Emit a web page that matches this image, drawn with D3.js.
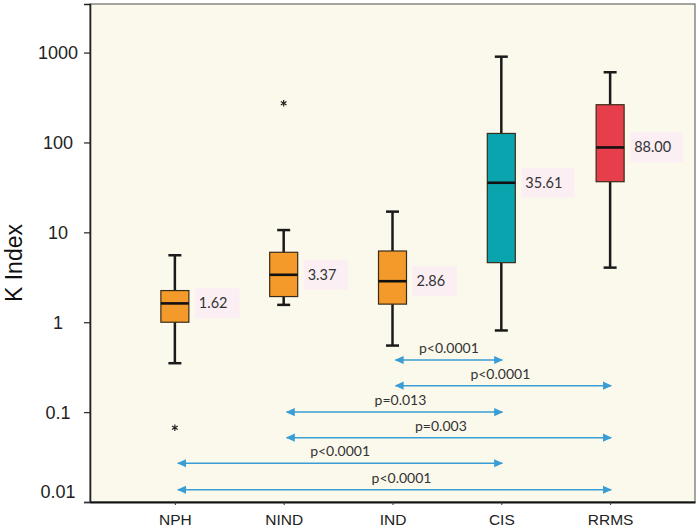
<!DOCTYPE html>
<html><head><meta charset="utf-8">
<script src="https://cdn.jsdelivr.net/npm/d3@7"></script>
<style>body{margin:0;background:#fff;} svg{display:block;}</style>
</head><body>
<svg id="c" width="700" height="528"></svg>
<script>
// ---- data ----
const categories   = ["NPH", "NIND", "IND", "CIS", "RRMS"];
const whiskerLow   = [0.35, 1.56, 0.55, 0.81, 4.05];
const q1           = [1.0, 1.93, 1.59, 4.6, 36.6];
const medians      = [1.62, 3.37, 2.86, 35.61, 88.00];
const q3           = [2.25, 6.0, 6.2, 126, 263];
const whiskerHigh  = [5.56, 10.6, 17, 900, 604];
const medianLabels = ["1.62", "3.37", "2.86", "35.61", "88.00"];
const outlierCats   = ["NPH", "NIND"];
const outlierValues = [0.067, 273];
const compFrom   = ["IND", "IND", "NIND", "NIND", "NPH", "NPH"];
const compTo     = ["CIS", "RRMS", "CIS", "RRMS", "CIS", "RRMS"];
const compLevel  = [0.38, 0.197, 0.1, 0.052, 0.027, 0.0137];
const compLabels = ["p<0.0001", "p<0.0001", "p=0.013", "p=0.003", "p<0.0001", "p<0.0001"];
const yTickValues = [0.01, 0.1, 1, 10, 100, 1000];
const yTickLabels = ["0.01", "0.1", "1", "10", "100", "1000"];

// ---- layout ----
const svg = d3.select("#c");
const L = 90, R = 695, T = 4, B = 502;
const x = d3.scalePoint().domain(categories).range([L, R]).padding(0.78);
const y = d3.scaleLog().domain([0.01, 3470]).range([B, T]);
const boxColors = ["#F39A2A", "#F39A2A", "#F39A2A", "#0AA4AE", "#E63E4A"];
const boxW = 28, capW = 13;

// plot background
svg.append("rect").attr("x", L).attr("y", T).attr("width", R - L).attr("height", B - T)
  .attr("fill", "#FBF9EC").attr("stroke", "#6a6a6a").attr("stroke-width", 1.2);

// y axis
const yAxis = svg.append("g").attr("transform", `translate(${L},0)`)
  .call(d3.axisLeft(y).tickValues(yTickValues).tickFormat((d, i) => yTickLabels[i]).tickSize(6).tickPadding(0));
yAxis.select(".domain").attr("stroke", "#222").attr("stroke-width", 1.6);
yAxis.selectAll(".tick line").attr("stroke", "#333").attr("stroke-width", 1.3);
yAxis.selectAll(".tick text")
  .attr("x", -32).attr("text-anchor", "middle")
  .attr("font-family", "Liberation Sans, Arial, sans-serif").attr("font-size", 18).attr("fill", "#222")
  .attr("dy", (d) => d === 0.01 ? "-0.25em" : "0.35em");

// x axis
const xAxis = svg.append("g").attr("transform", `translate(0,${B})`)
  .call(d3.axisBottom(x).tickSize(3).tickPadding(6).tickSizeOuter(0));
xAxis.select(".domain").attr("stroke", "#111").attr("stroke-width", 2.2);
xAxis.selectAll(".tick line").attr("stroke", "#333");
xAxis.selectAll(".tick text")
  .attr("font-family", "Liberation Sans, Arial, sans-serif").attr("font-size", 15.5).attr("fill", "#222")
  .attr("dy", "0.9em");

// y axis title
svg.append("text").attr("transform", `translate(22,263) rotate(-90)`)
  .attr("text-anchor", "middle").attr("font-family", "Liberation Sans, Arial, sans-serif")
  .attr("font-size", 23).attr("fill", "#111").text("K Index");

// boxes
const g = svg.append("g");
categories.forEach((c, i) => {
  const cx = x(c);
  const gg = g.append("g");
  // whiskers
  gg.append("line").attr("x1", cx).attr("x2", cx).attr("y1", y(q3[i])).attr("y2", y(whiskerHigh[i]))
    .attr("stroke", "#1a1a1a").attr("stroke-width", 2.5);
  gg.append("line").attr("x1", cx).attr("x2", cx).attr("y1", y(q1[i])).attr("y2", y(whiskerLow[i]))
    .attr("stroke", "#1a1a1a").attr("stroke-width", 2.5);
  [whiskerHigh[i], whiskerLow[i]].forEach(v => {
    gg.append("line").attr("x1", cx - capW / 2).attr("x2", cx + capW / 2).attr("y1", y(v)).attr("y2", y(v))
      .attr("stroke", "#1a1a1a").attr("stroke-width", 2.5);
  });
  // box
  gg.append("rect").attr("x", cx - boxW / 2).attr("width", boxW)
    .attr("y", y(q3[i])).attr("height", y(q1[i]) - y(q3[i]))
    .attr("fill", boxColors[i]).attr("stroke", "#3b2b1b").attr("stroke-width", 1.2);
  // median
  gg.append("line").attr("x1", cx - boxW / 2).attr("x2", cx + boxW / 2).attr("y1", y(medians[i])).attr("y2", y(medians[i]))
    .attr("stroke", "#111").attr("stroke-width", 2.6);
  // median label
  const lb = gg.append("g");
  const rect = lb.append("rect").attr("fill", "#FBEFF4");
  const t = lb.append("text").attr("x", cx + boxW / 2 + 10).attr("y", y(medians[i]) + 5)
    .attr("font-family", "Lato, 'Open Sans', sans-serif").attr("font-size", 14.5).attr("fill", "#333")
    .text(medianLabels[i]);
  const bb = t.node().getBBox();
  rect.attr("x", cx + boxW / 2 + 6).attr("y", y(medians[i]) - 15).attr("width", bb.width + 16).attr("height", 30);
});

// outliers
const star = d3.symbol(d3.symbolAsterisk, 30);
outlierCats.forEach((c, i) => {
  svg.append("path").attr("d", star()).attr("transform", `translate(${x(c)},${y(outlierValues[i])})`)
    .attr("fill", "none").attr("stroke", "#222").attr("stroke-width", 1.2);
});

// comparison arrows
const arrowColor = "#3A9DD6";
const defs = svg.append("defs");
defs.append("marker").attr("id", "ah").attr("viewBox", "0 0 10 10").attr("refX", 9).attr("refY", 5)
  .attr("markerWidth", 9).attr("markerHeight", 9).attr("markerUnits", "userSpaceOnUse").attr("orient", "auto-start-reverse")
  .append("path").attr("d", "M0,0.5 L10,5 L0,9.5 Z").attr("fill", arrowColor);
const labelShift = [0, -3, 6, -8, 0, 7];
compFrom.forEach((f, i) => {
  const x1 = x(f) + 3, x2 = x(compTo[i]) + 1, yy = y(compLevel[i]);
  svg.append("line").attr("x1", x1).attr("x2", x2).attr("y1", yy).attr("y2", yy)
    .attr("stroke", arrowColor).attr("stroke-width", 1.5)
    .attr("marker-start", "url(#ah)").attr("marker-end", "url(#ah)");
  svg.append("text").attr("x", (x1 + x2) / 2 + labelShift[i]).attr("y", yy - 7)
    .attr("text-anchor", "middle").attr("font-family", "Lato, 'Open Sans', sans-serif")
    .attr("font-size", 14).attr("fill", "#333").text(compLabels[i]);
});
</script>
</body></html>
